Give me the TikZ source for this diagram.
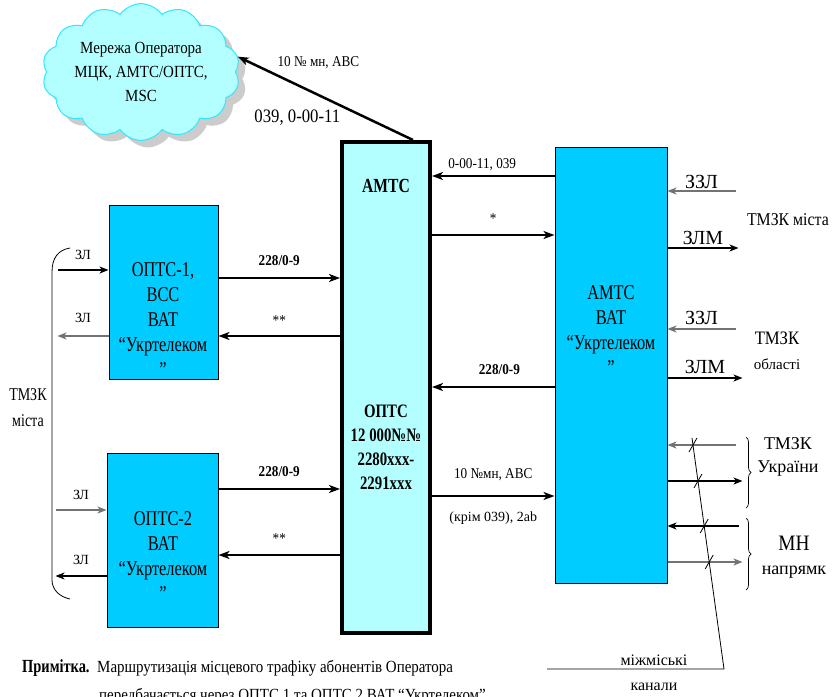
\documentclass[tikz,border=0pt]{standalone}
\usepackage{fontspec}
\setmainfont{Liberation Serif}[FakeStretch=0.78]
\newfontfamily\lblfont{Liberation Serif}[FakeStretch=0.88]
\newfontfamily\widefont{Liberation Serif}
\usetikzlibrary{arrows.meta,shapes.symbols,shadows,decorations.pathreplacing}
\definecolor{amtsfill}{HTML}{B3FFFF}
\definecolor{stnfill}{HTML}{00CCFF}
\definecolor{cloudline}{HTML}{33E6FF}
\newcommand{\fsz}[2]{\fontsize{#1}{#2}\selectfont}

\begin{document}
\begin{tikzpicture}[x=1pt,y=-1pt,
    stn/.style={draw, line width=1pt, fill=stnfill, inner sep=0pt},
    boxtxt/.style={align=center, font=\fsz{21}{25}},
    main/.style={line width=2.5pt, >={Stealth[length=11pt,width=8pt,inset=3pt]}},
    thin/.style={line width=1.2pt, >={Stealth[length=9pt,width=7pt,inset=2.5pt]}},
    lbl/.style={font=\lblfont\fsz{15}{18}, inner sep=0pt},
    blbl/.style={font=\lblfont\fsz{15}{18}\bfseries, inner sep=0pt},
    zl/.style={font=\widefont\fsz{14}{16}, inner sep=0pt},
    zzl/.style={font=\widefont\fsz{20}{22}, inner sep=0pt},
    side/.style={align=center, inner sep=0pt}]

    \useasboundingbox (0,0) rectangle (832,696);

    % Cloud of the operator
    \node[cloud, cloud puffs=14, cloud puff arc=110, aspect=1.6, draw=cloudline, fill=amtsfill, line width=1pt,
          minimum width=194pt, minimum height=122pt, inner sep=0pt,
          drop shadow={shadow xshift=7pt, shadow yshift=-7pt, fill=black!40},
          align=center, font=\lblfont\fsz{17}{24}] (cloud) at (141,72)
          {Мережа Оператора\\МЦК, АМТС/ОПТС,\\MSC};

    % Draw stations
    \node[draw, line width=4pt, fill=amtsfill, minimum width=88pt, minimum height=491pt] (amts) at (386,387.5) {};
    \node[font=\fsz{20}{24}\bfseries] (amtstxt) at (386,186) {АМТС};
    \node[align=center, font=\fsz{19}{24}\bfseries] (optstxt) at (386,447) {ОПТС\\12 000№№\\2280xxx-\\2291xxx};

    \node[stn, minimum width=109pt, minimum height=174pt] (opts1) at (163.5,292) {};
    \node[boxtxt] (opts1txt) at (163,320) {ОПТС-1,\\ВСС\\ВАТ\\“Укртелеком\\”};

    \node[stn, minimum width=111pt, minimum height=174pt] (opts2) at (162.5,540) {};
    \node[boxtxt] (opts2txt) at (163,556) {ОПТС-2\\ВАТ\\“Укртелеком\\”};

    \node[stn, minimum width=112pt, minimum height=436pt] (rbox) at (611,365) {};
    \node[boxtxt] (rboxtxt) at (611,330) {АМТС\\ВАТ\\“Укртелеком\\”};

    % Link to the operator
    \draw[main, ->] ([xshift=27pt]amts.north) -- (cloud.9)
        node[lbl, pos=0.54, yshift=32pt] {10 № мн, АВС}
        node[font=\lblfont\fsz{19}{22}, inner sep=0pt, pos=0.66, yshift=-33pt] {039, 0-00-11};

    % Trunks between OPTS and AMTS
    \draw[main, ->] (opts1.east |- 0,278) -- (amts.west |- 0,278) node[blbl, midway, yshift=17.5pt] {228/0-9};
    \draw[main, <-] (opts1.east |- 0,336) -- (amts.west |- 0,336) node[lbl, midway, yshift=15pt] {**};
    \draw[main, ->] (opts2.east |- 0,489) -- (amts.west |- 0,489) node[blbl, midway, yshift=17pt] {228/0-9};
    \draw[main, <-] (opts2.east |- 0,555) -- (amts.west |- 0,555) node[lbl, midway, yshift=16pt] {**};

    \draw[main, <-] (amts.east |- 0,176) -- (rbox.west |- 0,176) node[lbl, pos=0.41, yshift=11pt] {0-00-11, 039};
    \draw[main, ->] (amts.east |- 0,235) -- (rbox.west |- 0,235) node[lbl, midway, yshift=16pt] {*};
    \draw[main, <-] (amts.east |- 0,387) -- (rbox.west |- 0,387) node[blbl, pos=0.55, yshift=17pt] {228/0-9};
    \draw[main, ->] (amts.east |- 0,496) -- (rbox.west |- 0,496)
        node[lbl, midway, yshift=21pt] {10 №мн, АВС}
        node[font=\widefont\fsz{14}{16}, inner sep=0pt, midway, yshift=-22pt] {(крім 039), 2ab};

    % Local lines
    \draw[line width=0.8pt] (70,248) .. controls (58,250) and (52,258) .. (52,272) -- (52,580)
        .. controls (52,590) and (60,597) .. (70,599);
    \node[side, font=\fsz{18}{26}] (tmzkl) at (28,408) {ТМЗК\\міста};
    \draw[thin, <-] (opts1.west |- 0,270) -- ++(-51,0) node[zl, midway, yshift=15pt] {ЗЛ};
    \draw[thin, ->, black!55] (opts1.west |- 0,336) -- ++(-51,0) node[zl, black, midway, yshift=18pt] {ЗЛ};
    \draw[thin, <-, black!55] (opts2.west |- 0,510) -- ++(-51,0) node[zl, black, midway, yshift=15pt] {ЗЛ};
    \draw[thin, ->] (opts2.west |- 0,576) -- ++(-51,0) node[zl, midway, yshift=16pt] {ЗЛ};

    % Lines of the AMTS of Ukrtelecom
    \draw[thin, <-, black!55] (rbox.east |- 0,191) -- ++(68,0) node[zzl, black, midway, yshift=9pt] {ЗЗЛ};
    \draw[thin, ->] (rbox.east |- 0,248) -- ++(71,0) node[zzl, midway, yshift=10pt] {ЗЛМ};
    \draw[thin, <-, black!55] (rbox.east |- 0,329) -- ++(68,0) node[zzl, black, midway, yshift=11pt] {ЗЗЛ};
    \draw[thin, ->] (rbox.east |- 0,378) -- ++(75,0) node[zzl, midway, yshift=11pt] {ЗЛМ};
    \node[font=\lblfont\fsz{18}{20}, inner sep=0pt] (tmzkm) at (788,220) {ТМЗК міста};
    \node[font=\lblfont\fsz{19}{21}, inner sep=0pt] (tmzko) at (777,338) {ТМЗК};
    \node[font=\widefont\fsz{15}{17}, inner sep=0pt] (oblast) at (777,364) {області};

    \draw[thin, <-, black!55] (rbox.east |- 0,445) -- ++(68,0);
    \draw[thin, ->] (rbox.east |- 0,481) -- ++(75,0);
    \draw[thin, <-] (rbox.east |- 0,526) -- ++(71,0);
    \draw[thin, ->, black!55] (rbox.east |- 0,562) -- ++(75,0);

    \draw[line width=0.7pt, decorate, decoration={brace, amplitude=5pt}] (746,437) -- (746,508);
    \draw[line width=0.7pt, decorate, decoration={brace, amplitude=5pt}] (746,518) -- (746,590);
    \node[side, font=\widefont\fsz{18}{23}] (tmzku) at (788,457) {ТМЗК\\України};
    \node[font=\lblfont\fsz{22}{24}, inner sep=0pt] (mn) at (794,543) {МН};
    \node[font=\widefont\fsz{18}{20}, inner sep=0pt] (napr) at (794,572) {напрямк};

    % Long distance channels
    \coordinate (chtop) at (692,438);
    \coordinate (chbot) at (724,669);
    \coordinate (chend) at (547,669);
    \draw[line width=0.8pt] (chtop) -- (chbot) -- (chend);
    \foreach \yy in {445,481,526,562} {
        \pgfmathsetmacro{\xx}{692+32*(\yy-438)/231}
        \draw[line width=0.8pt] (\xx-4,\yy+7) -- (\xx+4,\yy-7);
    }
    \node[font=\widefont\fsz{16}{18}, inner sep=0pt] (mizh) at (654,660) {міжміські};
    \node[font=\widefont\fsz{16}{18}, inner sep=0pt] (kanal) at (654,687) {канали};

    % Note
    \node[font=\fsz{18.5}{20}\bfseries, anchor=base west, inner sep=0pt] (notehd) at (22,672) {Примітка.};
    \node[font=\lblfont\fsz{17}{20}, anchor=base west, inner sep=0pt] (notetx) at (97,672)
        {Маршрутизація місцевого трафіку  абонентів Оператора};
    \node[font=\lblfont\fsz{17}{20}, anchor=base west, inner sep=0pt] (notetx2) at (99,700)
        {передбачається через ОПТС 1 та ОПТС 2 ВАТ “Укртелеком”};
\end{tikzpicture}
\end{document}
